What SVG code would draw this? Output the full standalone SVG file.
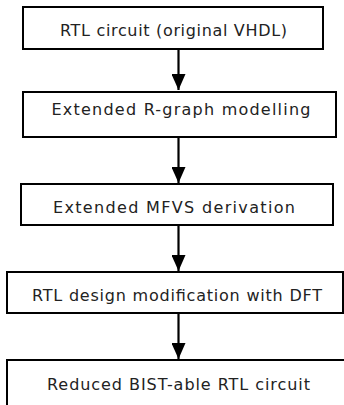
<svg xmlns="http://www.w3.org/2000/svg" width="344" height="405" viewBox="0 0 344 405">
  <defs>
    <marker id="arrowhead" viewBox="0 0 16 14" refX="16" refY="7" markerWidth="16" markerHeight="14" markerUnits="userSpaceOnUse" orient="auto">
      <path d="M0,0 L16,7 L0,14 Z" fill="#000"/>
    </marker>
    <style>
      .box { fill: #fff; stroke: #000; stroke-width: 2; }
      .label { font-family: "DejaVu Sans", "Liberation Sans", sans-serif; font-size: 16px; fill: #222; text-anchor: middle; }
      .conn { stroke: #000; stroke-width: 2.2; fill: none; }
    </style>
  </defs>
  <rect width="344" height="405" fill="#fff"/>

  <g id="connectors">
    <line class="conn" x1="178.5" y1="49" x2="178.5" y2="90" marker-end="url(#arrowhead)"/>
    <line class="conn" x1="178.5" y1="137" x2="178.5" y2="183" marker-end="url(#arrowhead)"/>
    <line class="conn" x1="178.5" y1="225" x2="178.5" y2="271" marker-end="url(#arrowhead)"/>
    <line class="conn" x1="178.5" y1="313" x2="178.5" y2="359" marker-end="url(#arrowhead)"/>
  </g>

  <g id="rtl-circuit">
    <rect class="box" x="23" y="7" width="300" height="42"/>
    <text class="label" x="173.5" y="36" textLength="227">RTL circuit (original VHDL)</text>
  </g>

  <g id="rgraph-modelling">
    <rect class="box" x="23" y="92" width="313" height="45"/>
    <text class="label" x="181" y="114.5" textLength="259">Extended R-graph modelling</text>
  </g>

  <g id="mfvs-derivation">
    <rect class="box" x="21" y="184" width="312" height="41"/>
    <text class="label" x="174" y="212.5" textLength="242">Extended MFVS derivation</text>
  </g>

  <g id="dft-modification">
    <rect class="box" x="7" y="272" width="336" height="41"/>
    <text class="label" x="177" y="300.5" textLength="290">RTL design modification with DFT</text>
  </g>

  <g id="bist-circuit">
    <rect class="box" x="7" y="360" width="340" height="50"/>
    <text class="label" x="178.5" y="390" textLength="263">Reduced BIST-able RTL circuit</text>
  </g>
</svg>
